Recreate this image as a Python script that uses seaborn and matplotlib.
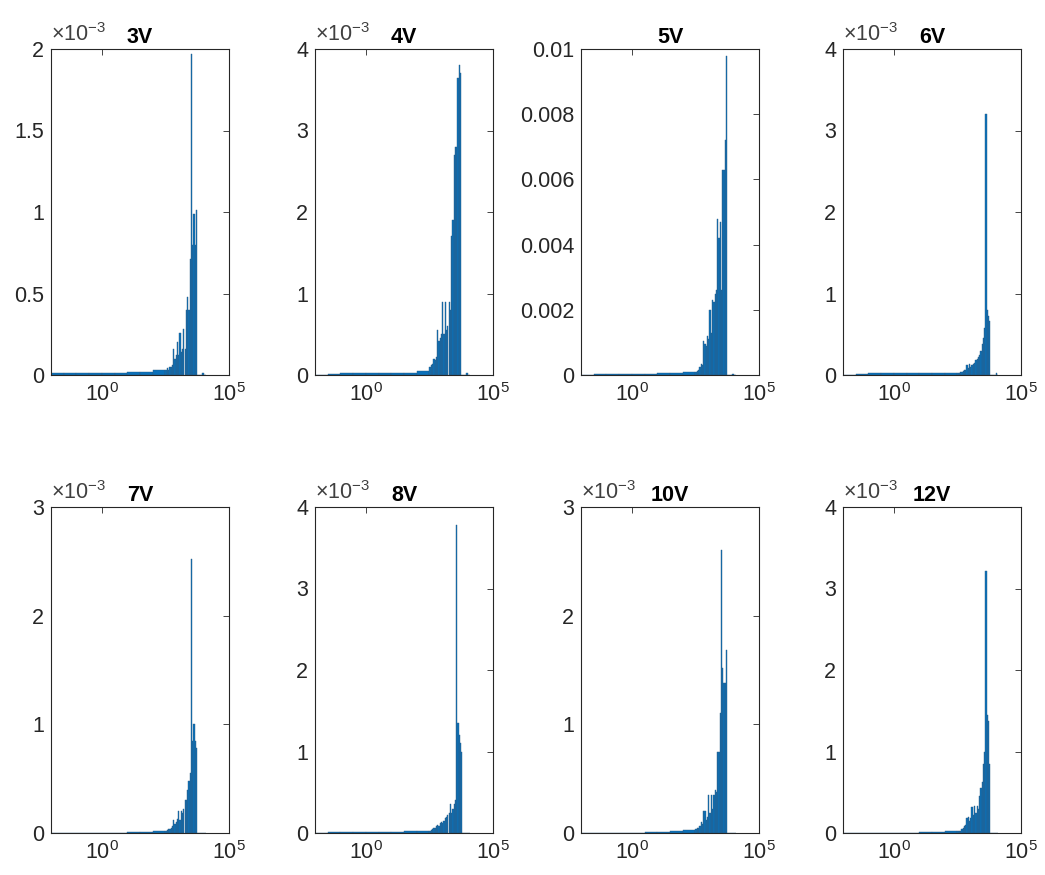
import numpy as np
import matplotlib
matplotlib.use("Agg")
import matplotlib.pyplot as plt
from matplotlib.ticker import FuncFormatter, NullLocator
import seaborn as sns

# panel labels and y ranges (in units of 1e-3)
panel_titles = ["3V", "4V", "5V", "6V", "7V", "8V", "10V", "12V"]
y_max_e3 = [2, 4, 10, 4, 3, 4, 3, 4]
y_step_e3 = [0.5, 1, 2, 1, 1, 1, 1, 1]

# coarse bins for the long flat tail (centres, log10 x)
tail_bins_log10 = [-1.75, -1.25, -0.75, -0.25, 0.25, 0.75, 1.25, 1.75, 2.25]
# fine bins for the peak region (centres, log10 x)
peak_bins_log10 = [2.525, 2.575, 2.625, 2.675, 2.725, 2.775, 2.825, 2.875,
                   2.925, 2.975, 3.025, 3.075, 3.125, 3.175, 3.225, 3.275,
                   3.325, 3.375, 3.425, 3.475, 3.525, 3.575, 3.625, 3.675,
                   3.725, 3.775, 3.825, 3.875, 3.925, 3.975, 4.025, 4.075]

# heights, x1e-3
tail_3v = [0.012, 0.010, 0.012, 0.012, 0.014, 0.014, 0.016, 0.020, 0.030]
tail_4v = [0.0, 0.015, 0.020, 0.020, 0.020, 0.020, 0.025, 0.030, 0.050]
tail_5v = [0.0, 0.02, 0.03, 0.04, 0.04, 0.04, 0.05, 0.06, 0.08]
tail_6v = [0.0, 0.015, 0.02, 0.02, 0.02, 0.02, 0.02, 0.025, 0.03]
tail_7v = [0.0, 0.0, 0.0, 0.0, 0.0, 0.0, 0.005, 0.01, 0.02]
tail_8v = [0.0, 0.01, 0.01, 0.01, 0.01, 0.01, 0.015, 0.02, 0.03]
tail_10v = [0.0, 0.0, 0.0, 0.0, 0.0, 0.01, 0.01, 0.02, 0.03]
tail_12v = [0.0, 0.0, 0.0, 0.0, 0.0, 0.0, 0.01, 0.015, 0.02]

peak_3v = [0.03, 0.04, 0.03, 0.05, 0.05, 0.06, 0.16, 0.10, 0.12, 0.20,
           0.12, 0.26, 0.14, 0.16, 0.28, 0.16, 0.40, 0.48, 0.40, 0.71,
           1.97, 0.80, 0.99, 0.80, 1.01, 0.0,
           0.0, 0.0, 0.0, 0.01, 0.0, 0.0]
peak_4v = [0.10, 0.12, 0.14, 0.20, 0.18, 0.22, 0.55, 0.42, 0.45, 0.50,
           0.90, 0.50, 0.90, 0.55, 0.60, 0.90, 0.80, 1.70, 1.90, 2.70,
           2.80, 2.80, 3.65, 3.80, 3.70, 0.0,
           0.0, 0.0, 0.0, 0.02, 0.0, 0.0]
peak_5v = [0.08, 0.12, 0.15, 0.25, 0.35, 0.30, 1.05, 0.95, 0.90, 1.20,
           1.10, 2.00, 1.30, 2.30, 2.25, 2.50, 2.60, 4.80, 4.20, 4.70,
           2.60, 6.30, 6.30, 7.20, 9.80, 0.0,
           0.0, 0.0, 0.0, 0.03, 0.0, 0.0]
peak_6v = [0.03, 0.03, 0.04, 0.04, 0.05, 0.06, 0.06, 0.12, 0.08, 0.14,
           0.10, 0.12, 0.14, 0.15, 0.18, 0.20, 0.22, 0.25, 0.30, 0.38,
           0.45, 0.58, 3.20, 0.80, 0.72, 0.66,
           0.0, 0.0, 0.0, 0.0, 0.02, 0.0]
peak_7v = [0.02, 0.03, 0.04, 0.04, 0.05, 0.06, 0.12, 0.08, 0.10, 0.13,
           0.20, 0.12, 0.20, 0.18, 0.22, 0.30, 0.30, 0.40, 0.48, 0.55,
           2.52, 0.85, 1.00, 0.85, 0.78, 0.0,
           0.0, 0.0, 0.0, 0.0, 0.0, 0.0]
peak_8v = [0.03, 0.04, 0.05, 0.06, 0.06, 0.08, 0.10, 0.08, 0.12, 0.14,
           0.12, 0.15, 0.18, 0.20, 0.22, 0.25, 0.35, 0.25, 0.30, 0.35,
           0.40, 3.78, 1.35, 1.20, 1.10, 1.00,
           0.0, 0.0, 0.0, 0.0, 0.0, 0.0]
peak_10v = [0.04, 0.05, 0.05, 0.06, 0.10, 0.08, 0.20, 0.20, 0.12, 0.15,
            0.35, 0.18, 0.35, 0.22, 0.35, 0.40, 0.38, 0.75, 0.75, 1.10,
            2.60, 1.52, 1.38, 1.38, 1.68, 0.0,
            0.0, 0.0, 0.0, 0.0, 0.0, 0.0]
peak_12v = [0.02, 0.03, 0.03, 0.05, 0.06, 0.08, 0.10, 0.18, 0.20, 0.15,
            0.18, 0.32, 0.22, 0.33, 0.25, 0.33, 0.30, 0.45, 0.55, 0.62,
            0.85, 1.00, 3.22, 1.45, 1.38, 0.85,
            0.0, 0.0, 0.0, 0.0, 0.0, 0.0]

tails = [tail_3v, tail_4v, tail_5v, tail_6v, tail_7v, tail_8v, tail_10v, tail_12v]
peaks = [peak_3v, peak_4v, peak_5v, peak_6v, peak_7v, peak_8v, peak_10v, peak_12v]

sns.set_style("white")
plt.rcParams['font.family'] = ['Liberation Sans', 'DejaVu Sans']
plt.rcParams['mathtext.fontset'] = 'custom'
plt.rcParams['mathtext.rm'] = 'Liberation Sans'
plt.rcParams['mathtext.it'] = 'Liberation Sans:italic'
plt.rcParams['mathtext.bf'] = 'Liberation Sans:bold'

dark = '#262626'
face = '#0a70ba'
edge = '#2b5d85'
fs = 15.5

fig = plt.figure(figsize=(10.45, 8.75), dpi=100)
W, H = 1045.0, 875.0
lefts = [51, 315, 581, 843]
tops = [49, 507]
aw, ah = 178, 326

for i, title in enumerate(panel_titles):
    r, c = divmod(i, 4)
    ax = fig.add_axes([lefts[c] / W, 1 - (tops[r] + ah) / H, aw / W, ah / H])

    sns.histplot(x=10 ** np.array(tail_bins_log10), weights=np.array(tails[i]) * 1e-3,
                 binwidth=0.5, binrange=(-2, 2.5), log_scale=True, stat='count',
                 color=face, edgecolor=edge, linewidth=0.3, alpha=1, ax=ax)
    sns.histplot(x=10 ** np.array(peak_bins_log10), weights=np.array(peaks[i]) * 1e-3,
                 binwidth=0.05, binrange=(2.5, 4.1), log_scale=True, stat='count',
                 color=face, edgecolor=edge, linewidth=0.3, alpha=1, ax=ax)

    ax.set_xlim(1e-2, 1e5)
    ax.set_ylim(0, y_max_e3[i] * 1e-3)
    ax.set_xticks([1, 1e5])
    ax.set_xticklabels([r'$10^{0}$', r'$10^{5}$'])
    ax.xaxis.set_minor_locator(NullLocator())
    ax.set_yticks(np.arange(0, y_max_e3[i] + 1e-9, y_step_e3[i]) * 1e-3)
    if title == "5V":
        ax.yaxis.set_major_formatter(FuncFormatter(lambda v, p: f"{v:g}"))
    else:
        ax.yaxis.set_major_formatter(FuncFormatter(lambda v, p: f"{v * 1e3:g}"))
        ax.text(0, 1.008, r'$\times10^{-3}$', transform=ax.transAxes,
                ha='left', va='bottom', fontsize=fs, color='#404040')
    ax.set_xlabel('')
    ax.set_ylabel('')
    ax.tick_params(direction='in', length=4, width=0.6, top=True, right=True,
                   labelsize=fs, colors=dark, pad=5)
    ax.tick_params(axis='x', pad=6)
    for s in ax.spines.values():
        s.set_color(dark)
        s.set_linewidth(0.8)
        s.set_visible(True)
    ax.set_title(title, fontsize=fs, fontweight='bold', color='black', pad=4)

fig.savefig('out.png', dpi=100, facecolor='white')
